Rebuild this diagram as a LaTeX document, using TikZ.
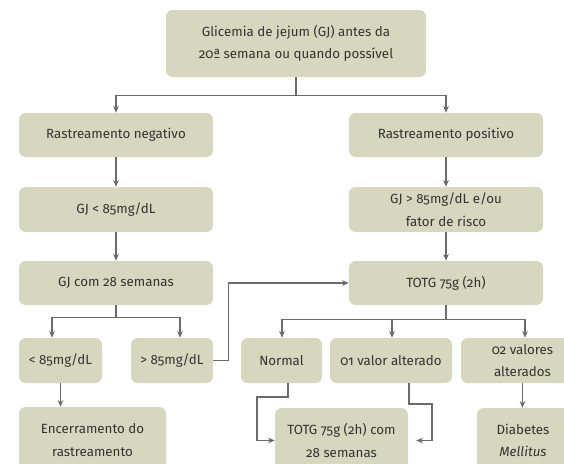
\documentclass[tikz,border=0pt]{standalone}
\usepackage{fontspec}
\setmainfont{Fira Sans}[Numbers=OldStyle]
\usetikzlibrary{arrows.meta}
\definecolor{boxfill}{HTML}{D6D7BE}
\definecolor{linecol}{HTML}{6A6A6A}
\definecolor{txtcol}{HTML}{333333}
\tikzset{
  box/.style={fill=boxfill, rounded corners=5pt, text=txtcol, align=center,
    font=\fontsize{10}{16.8}\selectfont, inner sep=0pt},
  conn/.style={draw=linecol, line width=1.1pt},
  arr/.style={conn, -{Stealth[length=5pt,width=4.2pt]}}
}
\begin{document}
\begin{tikzpicture}[x=0.75pt,y=-0.75pt]
\useasboundingbox (0,0) rectangle (564,464);
\clip (0,0) rectangle (564,464);
% boxes
\node[box, minimum width=260*0.75pt, minimum height=67*0.75pt] (top) at (296,43.5) {Glicemia de jejum (GJ) antes da\\20ª semana ou quando possível};
\node[box, minimum width=194*0.75pt, minimum height=44*0.75pt] (rneg) at (116,135) {Rastreamento negativo};
\node[box, minimum width=194*0.75pt, minimum height=44*0.75pt] (rpos) at (446,135) {Rastreamento positivo};
\node[box, minimum width=194*0.75pt, minimum height=45*0.75pt] (gjl) at (116,209.5) {GJ < 85mg/dL};
\node[box, minimum width=194*0.75pt, minimum height=45*0.75pt] (gjg) at (446,209.5) {GJ > 85mg/dL e/ou\\fator de risco};
\node[box, minimum width=194*0.75pt, minimum height=44*0.75pt] (gj28) at (116,283) {GJ com 28 semanas};
\node[box, minimum width=194*0.75pt, minimum height=44*0.75pt] (totg) at (446,283) {TOTG 75g (2h)};
\node[box, minimum width=83*0.75pt, minimum height=45*0.75pt] (l85) at (60.5,360.5) {< 85mg/dL};
\node[box, minimum width=82*0.75pt, minimum height=45*0.75pt] (g85) at (172,360.5) {> 85mg/dL};
\node[box, minimum width=81*0.75pt, minimum height=45*0.75pt] (normal) at (281.5,360.5) {Normal};
\node[box, minimum width=122*0.75pt, minimum height=45*0.75pt] (one) at (391,360.5) {01 valor alterado};
\node[box, minimum width=123*0.75pt, minimum height=45*0.75pt] (two) at (522.5,360.5) {02 valores\\alterados};
\node[box, minimum width=147*0.75pt, minimum height=66*0.75pt] (enc) at (92.5,440) {Encerramento do\\rastreamento};
\node[box, minimum width=133*0.75pt, minimum height=65*0.75pt] (t28) at (341.5,440.5) {TOTG 75g (2h) com\\28 semanas};
\node[box, minimum width=92*0.75pt, minimum height=65*0.75pt] (diab) at (523,440.5) {Diabetes\\\textit{Mellitus}};
% connectors
\draw[conn] (top.south) -- ++(0,18) coordinate (j0);
\draw[arr] (j0) -| (rneg.north);
\draw[arr] (j0) -| (rpos.north);
\draw[arr] (rneg) -- (gjl);
\draw[arr] (gjl) -- (gj28);
\draw[arr] (rpos) -- (gjg);
\draw[arr] (gjg) -- (totg);
\draw[conn] (gj28.south) -- ++(0,12) coordinate (j1);
\draw[arr] (j1) -| (52,0 |- l85.north);
\draw[arr] (j1) -| (180,0 |- g85.north);
\draw[arr] (g85.east) -- ++(15,0) |- (totg.west);
\draw[conn] (totg.south) -- ++(0,14) coordinate (j2);
\draw[arr] (j2) -| (282,0 |- normal.north);
\draw[arr] (j2) -| (392,0 |- one.north);
\draw[arr] (j2) -| (525,0 |- two.north);
\draw[arr] (l85.south) -- (l85.south |- enc.north);
\draw[arr] (two.south) -- (two.south |- diab.north);
\draw[arr] (288,0 |- normal.south) -- (288,397) -- (257,397) |- (t28.west);
\draw[arr, shorten >=6pt] (409,0 |- one.south) -- (409,404) -- (432,404) |- (t28.east);
\end{tikzpicture}
\end{document}
